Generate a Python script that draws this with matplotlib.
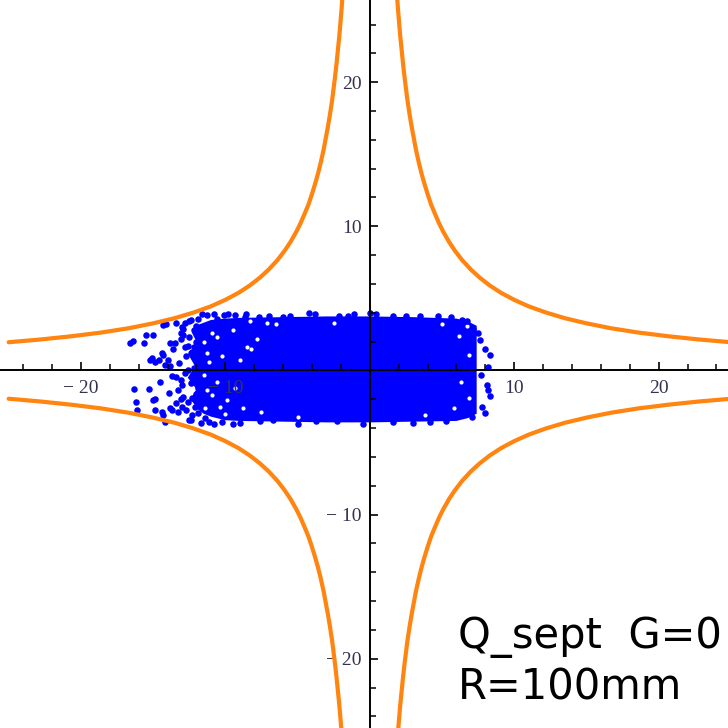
import matplotlib
matplotlib.use("Agg")
import matplotlib.pyplot as plt
import numpy as np
from matplotlib.ticker import FixedLocator, MultipleLocator

# upper-right branch of the orange curve (other branches mirror it)
branch_x = [1.9, 1.95, 2.0, 2.05, 2.1, 2.15, 2.2, 2.3, 2.4, 2.5, 2.6, 2.75, 2.9, 3.05,
            3.2, 3.4, 3.6, 3.8, 4.0, 4.25, 4.5, 4.8, 5.1, 5.5, 5.9, 6.4, 7.0, 7.6,
            8.3, 9.1, 10.0, 11.0, 12.2, 13.5, 15.0, 16.7, 18.6, 20.7, 22.8, 25.0]
branch_y = [25.8, 25.1, 24.5, 23.9, 23.3, 22.8, 22.3, 21.3, 20.4, 19.6, 18.8, 17.8,
            16.9, 16.1, 15.3, 14.4, 13.6, 12.9, 12.25, 11.5, 10.9, 10.2, 9.6, 8.9,
            8.3, 7.65, 7.0, 6.45, 5.9, 5.38, 4.9, 4.45, 4.02, 3.63, 3.27, 2.93, 2.63,
            2.37, 2.15, 1.96]

# dense core of the beam cloud: outline (clockwise from top-left)
core_x = [-11.8, -11.0, -10.0, -9.0, -6.0, -3.0, 0.0, 3.0, 6.0, 6.8, 7.4,
          7.4, 6.8, 6.0, 3.0, 0.0, -3.0, -6.0, -9.0, -10.0, -11.0, -11.5,
          -11.9, -12.4, -12.0, -12.6, -12.1, -12.5, -11.9, -12.3]
core_y = [3.2, 3.5, 3.6, 3.65, 3.7, 3.75, 3.75, 3.7, 3.6, 3.4, 3.1,
          -3.0, -3.3, -3.5, -3.55, -3.6, -3.6, -3.55, -3.5, -3.45, -3.2, -3.0,
          -2.7, -2.0, -1.3, -0.5, 0.3, 1.0, 1.8, 2.6]

# individual particles outside the core (tail on the left, ragged edges)
pts_x = [-16.6, -16.4, -15.6, -15.5, -15.0, -15.1, -14.9, -14.6, -14.3, -14.2, -13.8,
         -16.3, -15.3, -14.5, -16.2, -14.9, -13.7, -14.3, -14.1, -14.4, -13.4, -13.0,
         -13.1, -13.8, -13.6, -14.0, -16.1, -15.0, -14.9, -14.3, -14.2, -13.8, -13.4,
         -13.3, -13.1, -12.9, -12.7, -12.5, -12.9, -12.8, -12.4, -15.2, -13.5, -13.9,
         -14.4, -13.7, -13.0, -11.9, -11.1, -9.5, -13.4, -12.4, -11.7, -12.5, -11.9,
         -11.3, -10.6, -10.1, -9.3, -8.65,
         -12.9, -13.1, -12.7, -13.2, -12.8, -13.0, -12.6, -13.1, -12.4, -11.6, -12.3,
         -11.4, -10.8, -10.2, -9.8, -10.8, -12.8, -13.3, -12.6,
         -12.2, -12.0, -12.3, -11.9, -12.1, -12.4, -12.0, -12.2, -11.9, -12.5, -12.1,
         -12.3, -12.0, -12.6, -11.9, -12.2,
         -8.6, -7.7, -7.0, -6.0, -4.2, -3.8, -2.1, -1.1, 0.0, 0.4, 1.6, 2.5, 3.46, 4.7,
         5.6, 6.4, 6.7, 7.15, -5.5, -1.5,
         -7.6, -6.7, -4.96, -3.7, -2.3, 1.6, 3.0, 5.3, 7.1, -9.0, -0.5, 4.2,
         7.6, 7.96, 8.3, 8.2, 8.1, 8.2, 8.3, 7.8, 7.96, 7.5, 7.7]
pts_y = [1.93, 2.05, 1.9, 2.45, 2.45, 0.85, 0.6, 0.7, 1.1, 0.4, 0.3,
         -1.25, -1.25, -0.8, -2.2, -1.95, -0.4, 3.15, 3.2, 1.2, 3.3, 3.0,
         2.6, 1.9, 1.5, 0.7, -2.74, -2.05, -2.74, -3.09, -3.55, -2.63, -2.28,
         -1.35, -0.66, -1.82, -2.74, -3.44, 2.45, 1.65, 1.2, 0.7, 1.9, -1.58,
         -2.86, -2.74, -2.51, -2.97, -3.55, -3.7, -0.43, -3.44, -3.67, 3.4, 3.6,
         3.85, 3.6, 3.85, 3.85, 3.7,
         2.9, 2.2, 1.0, 0.5, -0.2, -1.0, -2.2, -2.0, 3.5, 3.9, -3.1,
         -3.3, -3.7, -3.6, 3.95, 3.95, 3.3, -2.9, 1.7,
         2.8, 2.0, 1.3, 0.8, -0.4, -0.9, -1.6, 0.2, 2.5, 2.3, -2.5,
         -1.9, 3.1, 0.0, -1.2, 1.6,
         3.9, 3.7, 3.8, 3.7, 4.0, 3.92, 3.8, 3.92, 4.0, 3.92, 3.75, 3.8, 3.8, 3.8,
         3.7, 3.5, 3.45, 2.9, 3.75, 3.75,
         -3.5, -3.45, -3.74, -3.5, -3.5, -3.55, -3.65, -3.5, -3.2, -3.65, -3.7, -3.6,
         2.1, 1.5, 1.08, 0.26, -1.0, -1.35, -1.8, -2.5, -2.97, 2.6, -0.3]

# white gaps inside the cloud
gap_x = [-10.95, -10.6, -8.5, -8.2, -9.0, -11.3, -10.4, -9.9, -11.3, -11.1, -8.3,
         -7.1, 6.7, 6.2, 5.8, 6.9,
         -11.5, -10.2, -9.5, -10.6, -9.3, -11.4, -10.0, -8.8, -7.8, -7.5, -6.5, -5.0,
         -2.5, 3.8, 5.0, 6.3, 6.9, -11.5, -10.9]
gap_y = [2.6, 2.35, 1.65, 1.5, 0.73, -1.35, -2.5, -2.05, 1.2, 0.6, 3.4,
         3.3, 3.1, 2.4, -2.6, -1.9,
         2.0, 1.0, 2.8, -0.8, -1.2, -2.6, -3.0, -2.6, 2.2, -2.9, 3.2, -3.2,
         3.3, -3.1, 3.2, -0.8, 1.1, -0.3, -1.7]

x_ticks = [-20, -10, 10, 20]
x_labels = ["\u2212 20", "\u2212 10", "10", "20"]
y_ticks = [-20, -10, 10, 20]
y_labels = ["\u2212 20", "\u2212 10", "10", "20"]

orange = "#ff8410"
blue = "#0000ff"

fig = plt.figure(figsize=(7.28, 7.28), dpi=100)
ax = fig.add_axes([0, 0, 1, 1])
ax.set_xlim(-25.6, 24.8)
ax.set_ylim(-24.8, 25.7)

bx = np.array(branch_x)
by = np.array(branch_y)
for sx, sy in [(1, 1), (-1, 1), (1, -1), (-1, -1)]:
    ax.plot(sx * bx, sy * by, color=orange, lw=3.0, solid_capstyle="round",
            solid_joinstyle="round", zorder=2)

ax.fill(core_x, core_y, color=blue, lw=0, zorder=1)
ax.scatter(gap_x, gap_y, s=9, color="white", lw=0, zorder=1.2)
ax.scatter(pts_x, pts_y, s=22, color=blue, lw=0, zorder=1.4)

# axes through the origin
for side in ["top", "right"]:
    ax.spines[side].set_visible(False)
ax.spines["left"].set_position("zero")
ax.spines["bottom"].set_position("zero")
for side in ["left", "bottom"]:
    ax.spines[side].set_linewidth(1.4)
    ax.spines[side].set_zorder(3)

ax.xaxis.set_major_locator(FixedLocator(x_ticks))
ax.yaxis.set_major_locator(FixedLocator(y_ticks))
ax.set_xticklabels(x_labels)
ax.set_yticklabels(y_labels)
ax.xaxis.set_minor_locator(MultipleLocator(2))
ax.yaxis.set_minor_locator(MultipleLocator(2))
ax.tick_params(which="major", direction="in", length=5.8, width=1.2, color="black",
               labelsize=14, labelcolor="#333350")
ax.tick_params(which="minor", direction="in", length=4, width=1.1, color="black")
ax.tick_params(axis="x", which="major", pad=7)
ax.tick_params(axis="y", which="major", pad=6)
for lab in ax.get_xticklabels() + ax.get_yticklabels():
    lab.set_family("Liberation Serif")

fig.text(0.629, 0.110, "Q_sept  G=0", fontsize=30, family="DejaVu Sans", va="baseline")
fig.text(0.629, 0.0385, "R=100mm", fontsize=30, family="DejaVu Sans", va="baseline")

fig.savefig("out.png", dpi=100)
